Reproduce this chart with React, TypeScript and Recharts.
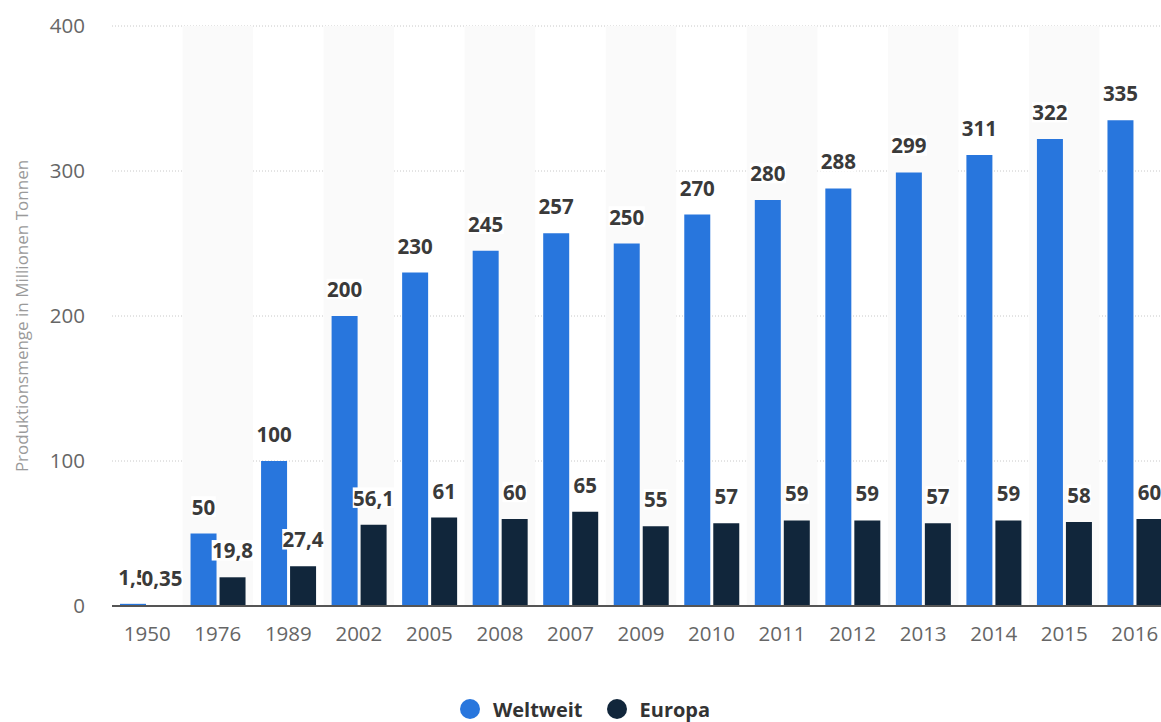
import React from "react";
import {
  BarChart,
  Bar,
  XAxis,
  YAxis,
  CartesianGrid,
  Legend,
  LabelList,
  ReferenceArea,
  Label,
} from "recharts";

// Plastic production in million tonnes, world vs. Europe
const years = ["1950", "1976", "1989", "2002", "2005", "2008", "2007", "2009", "2010", "2011", "2012", "2013", "2014", "2015", "2016"];
const weltweit = [1.5, 50, 100, 200, 230, 245, 257, 250, 270, 280, 288, 299, 311, 322, 335];
const europa = [0.35, 19.8, 27.4, 56.1, 61, 60, 65, 55, 57, 59, 59, 57, 59, 58, 60];
const yTicks = [0, 100, 200, 300, 400];

const BLUE = "#2876dd";
const NAVY = "#11263b";
const FONT = "'Open Sans', sans-serif";

const rows = years.map((year, i) => ({
  year,
  Weltweit: weltweit[i],
  Europa: europa[i],
}));

const shadedYears = years.filter((_, i) => i % 2 === 1);

const fmt = (v: number) => String(v).replace(".", ",");

// approximate rendered width of a bold numeric label
const labelWidth = (text: string, fs: number) =>
  text.split("").reduce((acc, ch) => acc + (ch === "," ? 0.27 : 0.572), 0) * fs;

const ValueLabel = (props: any) => {
  const { x, y, width, value } = props;
  const text = fmt(Number(value));
  const fs = 20.5;
  const cx = Number(x) + Number(width) / 2;
  const cy = Number(y) - 27;
  const w = labelWidth(text, fs) + 1;
  const h = fs;
  return (
    <g>
      <rect x={cx - w / 2} y={cy - h / 2} width={w} height={h} fill="#ffffff" />
      <text
        x={cx}
        y={cy}
        textAnchor="middle"
        dominantBaseline="central"
        fontFamily={FONT}
        fontWeight={700}
        fontSize={fs}
        fill="#3a3a3a"
      >
        {text}
      </text>
    </g>
  );
};

const LegendContent = () => (
  <div
    style={{
      display: "flex",
      justifyContent: "center",
      alignItems: "center",
      height: 24,
      fontFamily: FONT,
      fontWeight: 700,
      fontSize: 20,
      color: "#333",
    }}
  >
    {[
      { name: "Weltweit", color: BLUE },
      { name: "Europa", color: NAVY },
    ].map((item, i) => (
      <div key={item.name} style={{ display: "flex", alignItems: "center", marginLeft: i ? 24 : 0 }}>
        <span
          style={{
            width: 20,
            height: 20,
            borderRadius: 10,
            background: item.color,
            display: "inline-block",
            marginRight: 13,
          }}
        />
        <span>{item.name}</span>
      </div>
    ))}
  </div>
);

const YTitle = (props: any) => {
  const vb = props.viewBox || {};
  const cy = Number(vb.y) + Number(vb.height) / 2;
  return (
    <text
      x={21}
      y={cy}
      transform={`rotate(-90, 21, ${cy})`}
      textAnchor="middle"
      dominantBaseline="central"
      fontFamily={FONT}
      fontSize={17}
      fill="#9a9a9a"
    >
      Produktionsmenge in Millionen Tonnen
    </text>
  );
};

export default function App() {
  return (
    <div
      style={{
        position: "fixed",
        left: 0,
        top: 0,
        width: 1161,
        height: 722,
        overflow: "hidden",
        background: "#fff",
      }}
    >
      <BarChart
        width={1170}
        height={722}
        data={rows}
        margin={{ top: 26, right: 0, left: 0, bottom: 52 }}
        barSize={26}
        barGap={3}
      >
        {shadedYears.map((yr) => (
          <ReferenceArea key={yr} x1={yr} x2={yr} fill="#fafafa" fillOpacity={1} stroke="none" />
        ))}
        <CartesianGrid vertical={false} stroke="#c8c8c8" strokeDasharray="1 2" />
        <XAxis
          dataKey="year"
          tickLine={false}
          tickSize={0}
          tickMargin={20}
          height={40}
          axisLine={{ stroke: "#555", strokeWidth: 2 }}
          tick={{ fontFamily: FONT, fontSize: 20.5, fill: "#666" }}
          interval={0}
        />
        <YAxis
          width={112}
          domain={[0, 400]}
          ticks={yTicks}
          tickLine={false}
          axisLine={false}
          tickSize={0}
          tickMargin={27}
          tick={{ fontFamily: FONT, fontSize: 20.5, fill: "#666" }}
        >
          <Label content={<YTitle />} />
        </YAxis>
        <Legend
          content={<LegendContent />}
          verticalAlign="bottom"
          height={24}
          wrapperStyle={{ top: 697, bottom: "auto" }}
        />
        <Bar dataKey="Weltweit" fill={BLUE} isAnimationActive={false}>
          <LabelList dataKey="Weltweit" content={<ValueLabel />} />
        </Bar>
        <Bar dataKey="Europa" fill={NAVY} isAnimationActive={false}>
          <LabelList dataKey="Europa" content={<ValueLabel />} />
        </Bar>
      </BarChart>
    </div>
  );
}
